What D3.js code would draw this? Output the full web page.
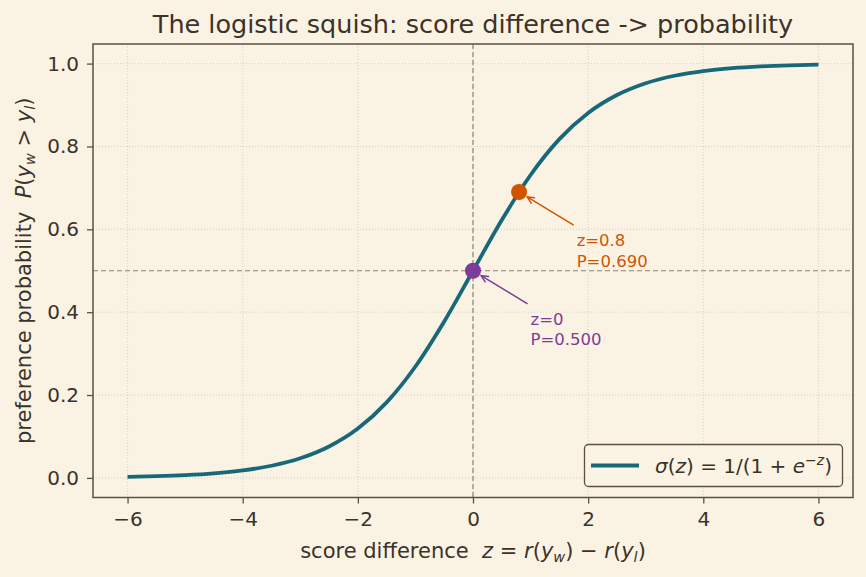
<!DOCTYPE html>
<html><head><meta charset="utf-8">
<script src="https://cdn.jsdelivr.net/npm/d3@7"></script>
<style>
html,body{margin:0;padding:0;background:#faf3e4;}
svg{display:block;font-family:"DejaVu Sans",sans-serif;}
</style></head>
<body>
<svg id="c" width="866" height="577"></svg>
<script>
// ---- data ----
const zValues = [-6,-5.5,-5,-4.5,-4,-3.5,-3,-2.5,-2,-1.5,-1,-0.5,0,0.5,1,1.5,2,2.5,3,3.5,4,4.5,5,5.5,6];
const pValues = [0.0025,0.0041,0.0067,0.0110,0.0180,0.0293,0.0474,0.0759,0.1192,0.1824,0.2689,0.3775,0.5,0.6225,0.7311,0.8176,0.8808,0.9241,0.9526,0.9707,0.9820,0.9890,0.9933,0.9959,0.9975];
const xTicks = [-6,-4,-2,0,2,4,6];
const yTicks = [0,0.2,0.4,0.6,0.8,1.0];
const highlightZ = [0, 0.8];
const highlightP = [0.500, 0.690];
const highlightLabels = [["z=0","P=0.500"],["z=0.8","P=0.690"]];
const highlightColors = ["#7d3c98","#d35400"];

const W=866,H=577;
const L=93,R=853,T=44,B=497.5;
const ink="#3b3228", spine="#5b5043";
const svg=d3.select("#c");
svg.append("rect").attr("width",W).attr("height",H).attr("fill","#faf3e4");

const x=d3.scaleLinear().domain([-6.6,6.6]).range([L,R]);
const y=d3.scaleLinear().domain([-0.0473,1.0473]).range([B,T]);

// grid
const g=svg.append("g");
g.selectAll(".gx").data(xTicks).enter().append("line")
 .attr("x1",d=>x(d)).attr("x2",d=>x(d)).attr("y1",T).attr("y2",B)
 .attr("stroke","#cfc7b6").attr("stroke-width",0.8).attr("stroke-dasharray","1,2");
g.selectAll(".gy").data(yTicks).enter().append("line")
 .attr("y1",d=>y(d)).attr("y2",d=>y(d)).attr("x1",L).attr("x2",R)
 .attr("stroke","#cfc7b6").attr("stroke-width",0.8).attr("stroke-dasharray","1,2");

// reference lines
svg.append("line").attr("x1",x(0)).attr("x2",x(0)).attr("y1",T).attr("y2",B)
 .attr("stroke","#8a8374").attr("stroke-width",1.2).attr("stroke-dasharray","5,3");
svg.append("line").attr("y1",y(0.5)).attr("y2",y(0.5)).attr("x1",L).attr("x2",R)
 .attr("stroke","#8a8374").attr("stroke-width",1.2).attr("stroke-dasharray","5,3");

// curve
const pts=zValues.map((z,i)=>[z,pValues[i]]);
svg.append("path").datum(pts)
 .attr("d",d3.line().x(d=>x(d[0])).y(d=>y(d[1])).curve(d3.curveMonotoneX))
 .attr("fill","none").attr("stroke","#17697a").attr("stroke-width",3.8);

// highlight points + annotations
highlightZ.forEach((z,i)=>{
  const c=highlightColors[i];
  const px=x(z), py=y(highlightP[i]);
  svg.append("circle").attr("cx",px).attr("cy",py).attr("r",8).attr("fill",c);
  const tx=x(z+1), tb=y(highlightP[i]-0.18);
  const lines=highlightLabels[i];
  const t=svg.append("text").attr("fill",c).attr("font-size",16.5);
  lines.forEach((s,j)=>{
    t.append("tspan").attr("x",tx).attr("y",tb-(lines.length-1-j)*20.5).text(s);
  });
  const firstBase=tb-(lines.length-1)*20.5;
  const sx=tx-3, sy=firstBase-21;
  const dx=px-sx, dy=py-sy, len=Math.hypot(dx,dy);
  const ex=px-dx/len*9.5, ey=py-dy/len*9.5;
  svg.append("line").attr("x1",sx).attr("y1",sy).attr("x2",ex).attr("y2",ey)
   .attr("stroke",c).attr("stroke-width",1.5);
  const ang=Math.atan2(ey-sy,ex-sx), ah=8, aw=0.45;
  const p1=[ex-ah*Math.cos(ang-aw), ey-ah*Math.sin(ang-aw)];
  const p2=[ex-ah*Math.cos(ang+aw), ey-ah*Math.sin(ang+aw)];
  svg.append("path").attr("d",`M${p1[0]},${p1[1]}L${ex},${ey}L${p2[0]},${p2[1]}`)
   .attr("fill","none").attr("stroke",c).attr("stroke-width",1.5);
});

// axes
const xa=svg.append("g").attr("transform",`translate(0,${B})`)
 .call(d3.axisBottom(x).tickValues(xTicks).tickSize(6).tickPadding(8).tickFormat(d=>d<0?"\u2212"+Math.abs(d):d));
const ya=svg.append("g").attr("transform",`translate(${L},0)`)
 .call(d3.axisLeft(y).tickValues(yTicks).tickSize(6).tickPadding(8).tickFormat(d3.format(".1f")));
[xa,ya].forEach(a=>{
  a.select(".domain").remove();
  a.selectAll("line").attr("stroke",spine).attr("stroke-width",1.3);
  a.selectAll("text").attr("fill",ink).attr("font-size",20).attr("font-family","DejaVu Sans");
});
svg.append("rect").attr("x",L).attr("y",T).attr("width",R-L).attr("height",B-T)
 .attr("fill","none").attr("stroke",spine).attr("stroke-width",1.5);

// title
svg.append("text").attr("x",(L+R)/2).attr("y",33).attr("text-anchor","middle")
 .attr("fill",ink).attr("font-size",25.5).text("The logistic squish: score difference -> probability");

// x label
const SUB=14.5;
const xl=svg.append("text").attr("x",(L+R)/2).attr("y",558).attr("text-anchor","middle")
 .attr("fill",ink).attr("font-size",21);
xl.append("tspan").text("score difference\u00a0\u00a0");
xl.append("tspan").attr("font-style","italic").text("z");
xl.append("tspan").text("\u00a0=\u00a0");
xl.append("tspan").attr("font-style","italic").text("r");
xl.append("tspan").text("(");
xl.append("tspan").attr("font-style","italic").text("y");
xl.append("tspan").attr("font-style","italic").attr("font-size",SUB).attr("dy",4).text("w");
xl.append("tspan").attr("dy",-4).text(")\u00a0\u2212\u00a0");
xl.append("tspan").attr("font-style","italic").text("r");
xl.append("tspan").text("(");
xl.append("tspan").attr("font-style","italic").text("y");
xl.append("tspan").attr("font-style","italic").attr("font-size",SUB).attr("dy",4).text("l");
xl.append("tspan").attr("dy",-4).text(")");

// y label
const yl=svg.append("text").attr("transform",`translate(31,${(T+B)/2}) rotate(-90)`)
 .attr("text-anchor","middle").attr("fill",ink).attr("font-size",21);
yl.append("tspan").text("preference probability\u00a0\u00a0");
yl.append("tspan").attr("font-style","italic").text("P");
yl.append("tspan").text("(");
yl.append("tspan").attr("font-style","italic").text("y");
yl.append("tspan").attr("font-style","italic").attr("font-size",SUB).attr("dy",4).text("w");
yl.append("tspan").attr("dy",-4).text("\u00a0>\u00a0");
yl.append("tspan").attr("font-style","italic").text("y");
yl.append("tspan").attr("font-style","italic").attr("font-size",SUB).attr("dy",4).text("l");
yl.append("tspan").attr("dy",-4).text(")");

// legend
const lg=svg.append("g");
lg.append("rect").attr("x",584.5).attr("y",444.5).attr("width",258).attr("height",42).attr("rx",4)
 .attr("fill","#faf3e4").attr("fill-opacity",0.85).attr("stroke",spine).attr("stroke-width",1.3);
lg.append("line").attr("x1",591).attr("x2",639).attr("y1",465.5).attr("y2",465.5)
 .attr("stroke","#17697a").attr("stroke-width",3.8);
const lt=lg.append("text").attr("x",655).attr("y",473).attr("fill",ink).attr("font-size",20);
lt.append("tspan").attr("font-style","italic").text("\u03c3");
lt.append("tspan").text("(");
lt.append("tspan").attr("font-style","italic").text("z");
lt.append("tspan").text(")\u00a0=\u00a01/(1\u00a0+\u00a0");
lt.append("tspan").attr("font-style","italic").text("e");
lt.append("tspan").attr("font-size",14).attr("dy",-8).text("\u2212");
lt.append("tspan").attr("font-style","italic").attr("font-size",14).text("z");
lt.append("tspan").attr("dy",8).text(")");
</script>
</body></html>
